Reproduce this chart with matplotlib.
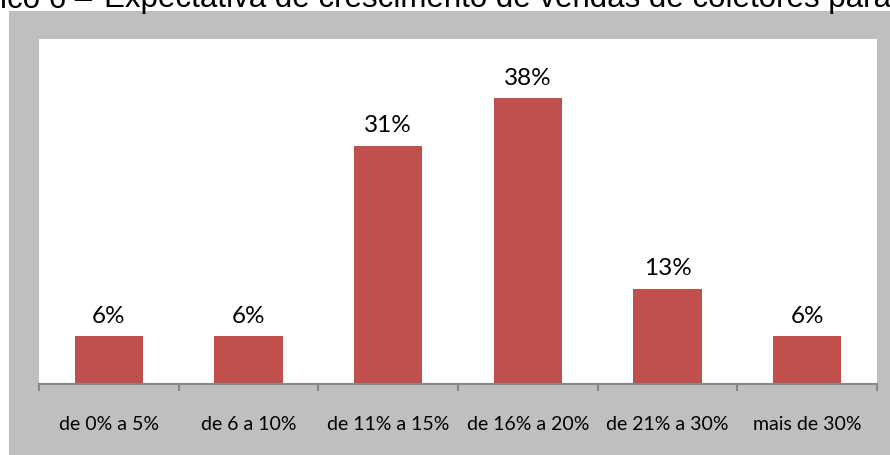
import numpy as np
import matplotlib
matplotlib.use("Agg")
import matplotlib.pyplot as plt
from matplotlib.patches import Rectangle

# respostas (16 empresas) -> percentuais
categorias = ["de 0% a 5%", "de 6 a 10%", "de 11% a 15%", "de 16% a 20%",
              "de 21% a 30%", "mais de 30%"]
valores = [6.25, 6.25, 31.25, 37.5, 12.5, 6.25]
rotulos = ["6%", "6%", "31%", "38%", "13%", "6%"]

W, H = 890, 456
fig = plt.figure(figsize=(W / 100, H / 100), dpi=100)
fig.patch.set_facecolor("white")

# moldura cinza do grafico
fig.patches.append(Rectangle((9 / W, 0), 1, (H - 12) / H, transform=fig.transFigure,
                             facecolor="#bfbfbf", edgecolor="none", zorder=-1))

# titulo cortado no topo
fig.text(92 / W, (H - 7.5) / H, "Gráfico 6 –", ha="right", va="baseline",
         fontsize=22.5, family="Liberation Sans", color="black")
fig.text(104 / W, (H - 7.5) / H,
         "Expectativa de crescimento de vendas de coletores para 2012",
         ha="left", va="baseline", fontsize=22.5, family="Liberation Sans",
         color="black")

ax = fig.add_axes([39 / W, (H - 385) / H, 838 / W, 345 / H])
ax.set_facecolor("white")
x = np.arange(len(categorias))
barras = ax.bar(x, valores, width=0.49, color="#c0504d", zorder=2)

for xi, v, r in zip(x, valores, rotulos):
    ax.annotate(r, (xi, v), xytext=(0, 10.5), textcoords="offset points",
                ha="center", va="baseline", fontsize=17.5, family="Lato",
                color="black")

ax.set_xlim(-0.5, len(categorias) - 0.5)
ax.set_ylim(0, 45.3)
ax.set_yticks([])
for s in ["top", "left", "right"]:
    ax.spines[s].set_visible(False)
ax.spines["bottom"].set_color("#868686")
ax.spines["bottom"].set_linewidth(1.5)

ax.set_xticks(np.arange(-0.5, len(categorias)), labels=[])
ax.tick_params(axis="x", which="major", direction="out", length=5,
               width=1.5, color="#868686")
ax.set_xticks(x, minor=True)
ax.set_xticklabels(categorias, minor=True, fontsize=14, family="Lato")
ax.tick_params(axis="x", which="minor", length=0, pad=22)

fig.savefig("out.png", dpi=100)
